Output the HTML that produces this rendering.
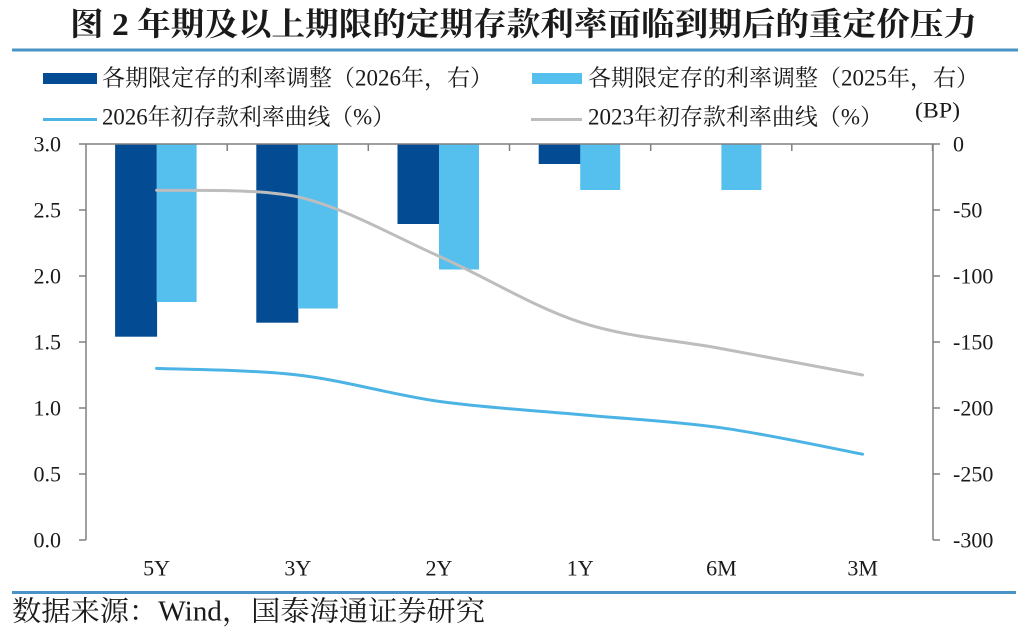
<!DOCTYPE html>
<html>
<head>
<meta charset="utf-8">
<style>
  html,body{margin:0;padding:0;background:#fff;}
  svg{display:block;}
  text{font-family:"Liberation Serif","Noto Serif CJK SC",serif;fill:#1a1a1a;}
</style>
</head>
<body>
<svg width="1024" height="637" viewBox="0 0 1024 637" xmlns="http://www.w3.org/2000/svg">
  <rect x="0" y="0" width="1024" height="637" fill="#ffffff"/>

  <!-- Title -->
  <text x="70" y="24" font-size="32" font-weight="bold" dominant-baseline="central" textLength="907" lengthAdjust="spacingAndGlyphs">图 2 年期及以上期限的定期存款利率面临到期后的重定价压力</text>
  <rect x="12" y="48.5" width="1006" height="3" fill="#4a93c6"/>

  <!-- Legend -->
  <rect x="43" y="73" width="54" height="11" fill="#034b92"/>
  <text x="102" y="78" font-size="23" dominant-baseline="central" textLength="391" lengthAdjust="spacingAndGlyphs">各期限定存的利率调整（2026年，右）</text>
  <rect x="532" y="73" width="50" height="11" fill="#55bfee"/>
  <text x="588" y="78" font-size="23" dominant-baseline="central" textLength="391" lengthAdjust="spacingAndGlyphs">各期限定存的利率调整（2025年，右）</text>

  <line x1="43" y1="119.5" x2="97" y2="119.5" stroke="#4cb4e4" stroke-width="3"/>
  <text x="102" y="117" font-size="23" dominant-baseline="central" textLength="293" lengthAdjust="spacingAndGlyphs">2026年初存款利率曲线（%）</text>
  <line x1="531" y1="119.5" x2="582" y2="119.5" stroke="#bdbdbd" stroke-width="3"/>
  <text x="588" y="117" font-size="23" dominant-baseline="central" textLength="295" lengthAdjust="spacingAndGlyphs">2023年初存款利率曲线（%）</text>

  <text x="915" y="110" font-size="22" dominant-baseline="central" textLength="45" lengthAdjust="spacingAndGlyphs">(BP)</text>

  <!-- Bars (right axis) -->
  <g fill="#034b92">
    <rect x="115.1" y="144" width="42" height="192.7"/>
    <rect x="256.3" y="144" width="42" height="178.7"/>
    <rect x="397.5" y="144" width="42" height="80"/>
    <rect x="538.7" y="144" width="42" height="20"/>
  </g>
  <g fill="#55bfee">
    <rect x="156.6" y="144" width="40" height="158"/>
    <rect x="297.8" y="144" width="40" height="164.5"/>
    <rect x="439.0" y="144" width="40" height="125.5"/>
    <rect x="580.2" y="144" width="40" height="46"/>
    <rect x="721.4" y="144" width="40" height="46"/>
  </g>

  <!-- Lines (left axis) -->
  <path d="M156.6,190.2 C180.1,191.3 250.7,187.5 297.8,196.8 C344.9,207.8 392.0,235.3 439.0,256.2 C486.1,277.1 533.1,306.8 580.2,322.2 C627.3,337.6 674.3,339.8 721.4,348.6 C768.5,357.4 839.1,370.6 862.6,375.0"
        fill="none" stroke="#bdbdbd" stroke-width="3" stroke-linecap="round"/>
  <path d="M156.6,368.4 C180.1,369.5 250.7,369.5 297.8,375.0 C344.9,380.5 392.0,394.8 439.0,401.4 C486.1,408.0 533.1,410.2 580.2,414.6 C627.3,419.0 674.3,421.2 721.4,427.8 C768.5,434.4 839.1,449.8 862.6,454.2"
        fill="none" stroke="#4cb4e4" stroke-width="3" stroke-linecap="round"/>

  <!-- Axes -->
  <g stroke="#808080" stroke-width="1.5" fill="none">
    <line x1="86" y1="144" x2="933" y2="144"/>
    <line x1="86" y1="144" x2="86" y2="540"/>
    <line x1="933" y1="144" x2="933" y2="540"/>
    <!-- left ticks -->
    <line x1="79" y1="144" x2="86" y2="144"/>
    <line x1="79" y1="210" x2="86" y2="210"/>
    <line x1="79" y1="276" x2="86" y2="276"/>
    <line x1="79" y1="342" x2="86" y2="342"/>
    <line x1="79" y1="408" x2="86" y2="408"/>
    <line x1="79" y1="474" x2="86" y2="474"/>
    <line x1="79" y1="540" x2="86" y2="540"/>
    <!-- right ticks -->
    <line x1="933" y1="144" x2="940" y2="144"/>
    <line x1="933" y1="210" x2="940" y2="210"/>
    <line x1="933" y1="276" x2="940" y2="276"/>
    <line x1="933" y1="342" x2="940" y2="342"/>
    <line x1="933" y1="408" x2="940" y2="408"/>
    <line x1="933" y1="474" x2="940" y2="474"/>
    <line x1="933" y1="540" x2="940" y2="540"/>
    <!-- top category ticks -->
    <line x1="227.2" y1="144" x2="227.2" y2="151"/>
    <line x1="368.3" y1="144" x2="368.3" y2="151"/>
    <line x1="509.5" y1="144" x2="509.5" y2="151"/>
    <line x1="650.7" y1="144" x2="650.7" y2="151"/>
    <line x1="791.8" y1="144" x2="791.8" y2="151"/>
    <line x1="932.5" y1="144" x2="932.5" y2="151"/>
  </g>

  <!-- Left axis labels -->
  <g font-size="22" text-anchor="end">
    <text x="61" y="144" dominant-baseline="central">3.0</text>
    <text x="61" y="210" dominant-baseline="central">2.5</text>
    <text x="61" y="276" dominant-baseline="central">2.0</text>
    <text x="61" y="342" dominant-baseline="central">1.5</text>
    <text x="61" y="408" dominant-baseline="central">1.0</text>
    <text x="61" y="474" dominant-baseline="central">0.5</text>
    <text x="61" y="540" dominant-baseline="central">0.0</text>
  </g>

  <!-- Right axis labels -->
  <g font-size="22" text-anchor="start">
    <text x="953" y="144" dominant-baseline="central">0</text>
    <text x="953" y="210" dominant-baseline="central">-50</text>
    <text x="953" y="276" dominant-baseline="central">-100</text>
    <text x="953" y="342" dominant-baseline="central">-150</text>
    <text x="953" y="408" dominant-baseline="central">-200</text>
    <text x="953" y="474" dominant-baseline="central">-250</text>
    <text x="953" y="540" dominant-baseline="central">-300</text>
  </g>

  <!-- X labels -->
  <g font-size="22" text-anchor="middle">
    <text x="156.6" y="568" dominant-baseline="central">5Y</text>
    <text x="297.8" y="568" dominant-baseline="central">3Y</text>
    <text x="439.0" y="568" dominant-baseline="central">2Y</text>
    <text x="580.2" y="568" dominant-baseline="central">1Y</text>
    <text x="721.4" y="568" dominant-baseline="central">6M</text>
    <text x="862.6" y="568" dominant-baseline="central">3M</text>
  </g>

  <!-- Bottom separator & source -->
  <rect x="12" y="591" width="1004" height="3" fill="#4a93c6"/>
  <text x="12" y="612" font-size="28" dominant-baseline="central" textLength="473" lengthAdjust="spacingAndGlyphs">数据来源：Wind，国泰海通证券研究</text>
</svg>
</body>
</html>
